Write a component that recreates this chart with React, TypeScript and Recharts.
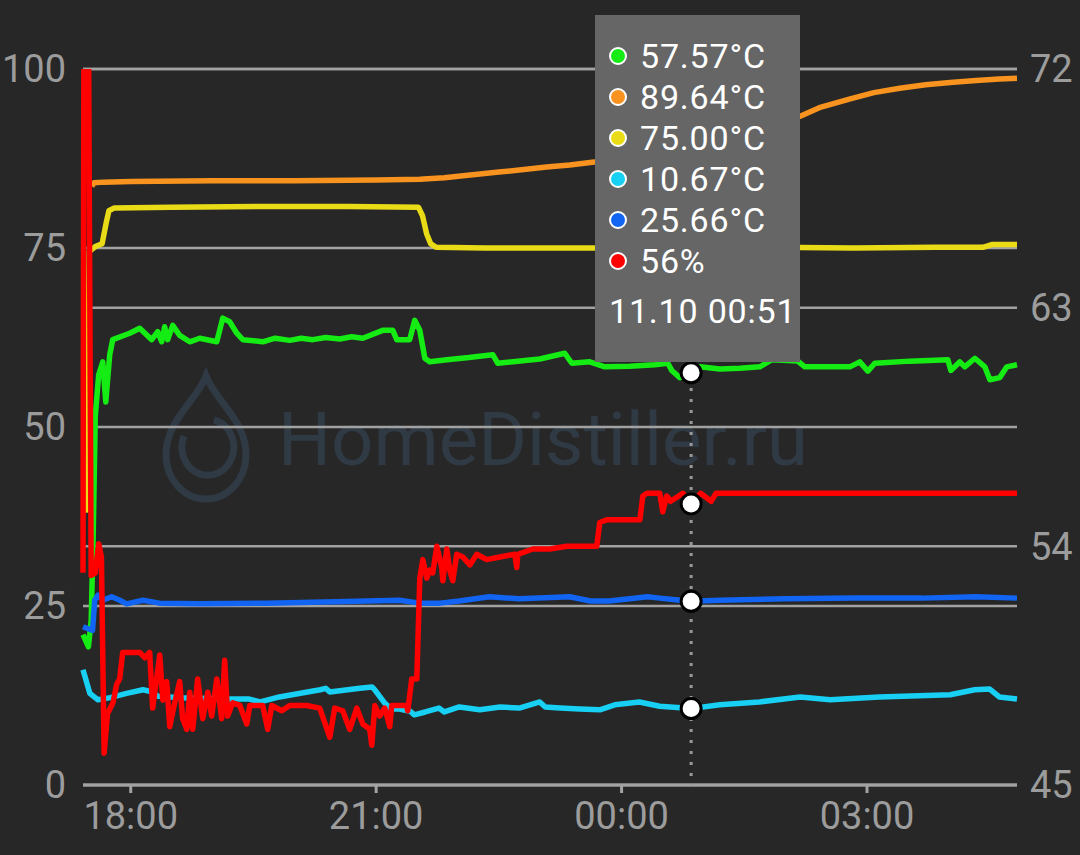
import React from "react";
import { CartesianGrid, Line, LineChart, Tooltip, XAxis, YAxis } from "recharts";

type Pt = [number, number];

// minutes from 18:00, value
const xTicks = [0, 180, 360, 540];
const xTickLabels = ["18:00", "21:00", "00:00", "03:00"];
const leftTicks = [0, 25, 50, 75, 100];
const rightTicks = [45, 54, 63, 72];
const activeMinute = 411;
const activeLabel = "11.10 00:51";

const green: Pt[] = [
  [-35, 21.0], [-31, 19.3], [-29, 23.0], [-27.5, 35], [-26, 51.5], [-23.5, 57.3], [-20.5, 59.1],
  [-18.3, 53.5], [-15.4, 60.1], [-13.2, 62.2], [-0.7, 63.1], [6.6, 63.8], [15.4, 62.2], [19.8, 63.3],
  [22.7, 61.9], [24.9, 64.0], [27.1, 62.2], [30.8, 64.2], [35.9, 62.8], [43.3, 61.9], [50.6, 62.4],
  [63.1, 61.9], [67.5, 65.2], [72.6, 64.7], [77.8, 63.1], [82.2, 62.2], [96.8, 61.9], [106, 62.4],
  [116.6, 62.1], [125, 62.4], [133.5, 62.2], [143, 62.5], [153.3, 62.3], [162, 62.6], [170.2, 62.4],
  [184.8, 63.5], [192.2, 63.5], [195.1, 62.2], [204.6, 62.2], [208.3, 64.9], [212, 63.5], [215.7, 59.6],
  [219.3, 59.1], [231.8, 59.4], [248, 59.7], [265.5, 60.1], [269.2, 58.9], [280.2, 59.1], [300, 59.5],
  [318.3, 60.3], [323.5, 58.9], [336.7, 59.1], [347.7, 58.4], [366, 58.5], [384.4, 58.7], [393.9, 58.9],
  [396.8, 57.9], [402.7, 56.9], [411, 57.57], [417.4, 58.4], [432.1, 58.1], [446.7, 58.2], [461.4, 58.4],
  [470.2, 59.4], [489.2, 59.2], [494.4, 58.4], [527.4, 58.4], [534.7, 59.1], [540.6, 57.8], [545.7, 58.9],
  [571.4, 59.2], [599.3, 59.4], [601.5, 57.9], [608.1, 59.1], [611.7, 58.4], [619.1, 59.6], [626.4, 58.4],
  [630.1, 56.6], [637.4, 56.9], [642.5, 58.4], [650, 58.7],
];

const orange: Pt[] = [
  [-28.5, 83.6], [-27, 84.1], [-20, 84.2], [0, 84.3], [60, 84.4], [120, 84.4], [180, 84.5], [212, 84.6],
  [230, 84.8], [249, 85.2], [270, 85.6], [285, 85.9], [305, 86.3], [322, 86.6], [340, 87.0], [360, 87.7],
  [385, 88.6], [411, 89.64], [430, 90.6], [447, 91.6], [470, 92.6], [491, 93.4], [505, 94.6], [527, 95.8],
  [545, 96.7], [564, 97.3], [583, 97.8], [601, 98.1], [620, 98.4], [637, 98.6], [650, 98.7],
];

const yellow: Pt[] = [
  [-35, 38.4], [-32, 38.4], [-30.5, 74.5], [-26, 75.2], [-21, 75.6], [-18, 78.5], [-16, 80.2], [-12, 80.6],
  [30, 80.7], [100, 80.8], [160, 80.8], [211, 80.7], [214, 79.5], [217, 77], [220, 75.6], [224, 75.1],
  [260, 75.0], [320, 75.0], [380, 75.0], [411, 75.0], [470, 75.1], [530, 75.0], [590, 75.1], [625, 75.1],
  [632, 75.5], [650, 75.5],
];

const cyan: Pt[] = [
  [-35, 16.1], [-30, 12.8], [-24, 11.9], [-15, 12.2], [-3, 12.8], [9, 13.3], [14, 13.1], [20, 12.4],
  [36, 12.2], [73, 12.0], [87, 12.0], [95, 11.6], [109, 12.3], [139, 13.3], [143, 13.5], [146, 13.0],
  [168, 13.5], [177, 13.7], [179, 13.3], [186, 11.5], [191, 10.6], [197, 10.6], [205, 10.3], [208, 9.8],
  [216, 10.2], [226, 10.75], [230, 10.2], [241, 10.9], [256, 10.5], [271, 10.9], [285, 10.75], [300, 11.6],
  [304, 10.9], [315, 10.75], [329, 10.6], [344, 10.5], [355, 11.2], [373, 11.6], [388, 11.0], [411, 10.67],
  [432, 11.2], [461, 11.6], [491, 12.3], [513, 11.9], [549, 12.3], [601, 12.6], [619, 13.3], [630, 13.4],
  [637, 12.3], [650, 12.0],
];

const blue: Pt[] = [
  [-35, 22.1], [-28, 21.6], [-26.4, 25.8], [-24, 26.5], [-20.5, 25.8], [-14, 26.3], [-8, 25.8], [-3, 25.3],
  [9, 25.8], [21, 25.4], [50, 25.3], [100, 25.4], [150, 25.6], [197, 25.8], [212, 25.4], [227, 25.4],
  [241, 25.7], [263, 26.3], [285, 26.0], [322, 26.3], [337, 25.7], [351, 25.7], [366, 26.0], [379, 26.3],
  [388, 26.1], [403, 25.8], [411, 25.66], [432, 25.8], [480, 26.0], [530, 26.1], [580, 26.1], [620, 26.3],
  [650, 26.1],
];

// right axis (%)
const red: Pt[] = [
  [-35, 53.0], [-33.5, 100], [-29, 52.9], [-26, 53.0], [-23.5, 54.1], [-21.5, 53.6], [-19.5, 46.2],
  [-17, 47.7], [-13, 48.1], [-10.3, 48.8], [-8.1, 49.0], [-5.9, 50.0], [6.6, 50.0], [10.3, 49.8],
  [13.9, 50.0], [16.1, 47.9], [21.3, 49.9], [23.5, 48.2], [26.4, 48.9], [28.6, 47.2], [32.3, 48.1],
  [35.9, 48.9], [38.1, 47.5], [41.1, 47.1], [43.3, 48.5], [45.5, 47.1], [49.1, 49.0], [52.8, 47.5],
  [56.5, 48.5], [59.4, 47.6], [63.1, 49.0], [66.7, 47.5], [68.9, 49.7], [71.1, 47.6], [74.8, 48.1],
  [80.0, 48.0], [85.1, 47.3], [87.3, 48.0], [96.8, 48.0], [100.5, 47.1], [103.4, 48.0], [110.8, 47.8],
  [116.6, 48.0], [129.1, 48.0], [138.6, 47.9], [146, 46.8], [149.6, 47.9], [155.5, 47.8], [160.6, 47.1],
  [165.8, 47.9], [170.2, 47.3], [175.3, 47.1], [176.8, 46.5], [179, 48.0], [182.6, 47.6], [186.3, 47.9],
  [190, 47.2], [191.4, 48.0], [202.4, 48.0], [203.2, 47.8], [206.1, 49.0], [209.8, 49.0], [212, 52.8],
  [214.2, 53.5], [217.1, 52.8], [219.3, 53.1], [221.5, 53.0], [224.5, 54.0], [228.1, 53.2], [228.9, 52.7],
  [231.8, 53.9], [234, 53.1], [236.2, 52.7], [239.1, 53.7], [243.5, 53.6], [248.7, 53.3], [253.8, 53.7],
  [261.1, 53.5], [270.7, 53.6], [281.7, 53.7], [283.1, 53.2], [283.9, 53.7], [294.9, 53.9], [307.3, 53.9],
  [319.8, 54.0], [341.8, 54.0], [344, 54.9], [349.1, 55.0], [373.4, 55.0], [375.6, 55.9], [378.5, 56.0],
  [388, 56.0], [390.2, 55.3], [393.1, 55.9], [396, 55.7], [404.9, 56.0], [411, 55.6], [418, 56.0],
  [425.7, 55.7], [429.3, 56.0], [650, 56.0],
];

const seriesKeys = ["green", "orange", "yellow", "cyan", "blue", "red"];
const seriesColors: Record<string, string> = {
  green: "#14ec14",
  orange: "#f7931e",
  yellow: "#e9dc16",
  cyan: "#17d0f4",
  blue: "#1264f2",
  red: "#ff0000",
};
const seriesUnits: Record<string, string> = {
  green: "°C",
  orange: "°C",
  yellow: "°C",
  cyan: "°C",
  blue: "°C",
  red: "%",
};

function buildRows() {
  const byMinute = new Map<number, any>();
  const add = (key: string, pts: Pt[]) =>
    pts.forEach(([m, v]) => {
      const row = byMinute.get(m) ?? { m };
      row[key] = v;
      byMinute.set(m, row);
    });
  add("green", green);
  add("orange", orange);
  add("yellow", yellow);
  add("cyan", cyan);
  add("blue", blue);
  add("red", red);
  return [...byMinute.values()].sort((a, b) => a.m - b.m);
}

const rows = buildRows();
const activeIndex = rows.findIndex((r) => r.m === activeMinute);

const gridColor = "#a2a2a2";
const labelColor = "#9c9c9c";
const font = "Roboto, sans-serif";

function TipBox(props: any) {
  const { active, payload } = props;
  if (!active || !payload || !payload.length) return null;
  const rowStyle = { height: 41, display: "flex", alignItems: "center" };
  return (
    <div
      style={{
        width: 205,
        height: 347,
        boxSizing: "border-box",
        background: "#666666",
        paddingTop: 20,
        fontFamily: font,
        fontSize: 34,
        letterSpacing: 0.8,
        color: "#ffffff",
      }}
    >
      {payload.map((p: any) => {
        const key = String(p.dataKey);
        const text =
          key === "red" ? `${Math.round(p.value)}%` : `${Number(p.value).toFixed(2)}${seriesUnits[key]}`;
        return (
          <div key={key} style={rowStyle}>
            <span
              style={{
                width: 14,
                height: 14,
                marginLeft: 14,
                borderRadius: "50%",
                border: "2px solid #ffffff",
                background: seriesColors[key],
              }}
            />
            <span style={{ marginLeft: 13 }}>{text}</span>
          </div>
        );
      })}
      <div style={{ ...rowStyle, marginTop: 9, paddingLeft: 14 }}>{activeLabel}</div>
    </div>
  );
}

function Watermark() {
  const c = "#2f3a45";
  return (
    <svg width={1080} height={855} style={{ position: "absolute", left: 0, top: 0 }}>
      <path
        d="M206 376 C 196 402, 166 420, 166 455 A 40 44 0 0 0 246 455 C 246 420, 216 402, 206 376 Z"
        fill="none"
        stroke={c}
        strokeWidth={7}
      />
      <path d="M214 420 A 26 28 0 1 1 184 436" fill="none" stroke={c} strokeWidth={7} />
      <text
        x={278}
        y={465}
        fontSize={74}
        fontFamily={font}
        fill={c}
        textLength={530}
        lengthAdjust="spacingAndGlyphs"
      >
        HomeDistiller.ru
      </text>
    </svg>
  );
}

export default function App() {
  return (
    <div
      style={{
        position: "absolute",
        left: 0,
        top: 0,
        width: 1080,
        height: 855,
        background: "#272727",
        overflow: "hidden",
      }}
    >
      <Watermark />
      <div style={{ position: "absolute", left: 0, top: 0 }}>
        <LineChart width={1080} height={855} data={rows} margin={{ top: 69, right: 0, bottom: 0, left: 0 }}>
          <CartesianGrid yAxisId="left" vertical={false} stroke={gridColor} strokeWidth={2.5} />
          <CartesianGrid yAxisId="right" vertical={false} stroke={gridColor} strokeWidth={2.5} />
          <XAxis
            dataKey="m"
            type="number"
            domain={[-35, 650]}
            ticks={xTicks}
            interval={0}
            tickFormatter={(v: number) => xTickLabels[xTicks.indexOf(v)] ?? ""}
            height={70}
            tickSize={8}
            tickMargin={9}
            axisLine={{ stroke: gridColor, strokeWidth: 3 }}
            tickLine={{ stroke: gridColor, strokeWidth: 3 }}
            tick={{ fill: labelColor, fontSize: 38, fontFamily: font }}
          />
          <YAxis
            yAxisId="left"
            domain={[0, 100]}
            ticks={leftTicks}
            interval={0}
            width={83}
            tickSize={0}
            tickMargin={17}
            axisLine={false}
            tickLine={false}
            tick={{ fill: labelColor, fontSize: 38, fontFamily: font }}
          />
          <YAxis
            yAxisId="right"
            orientation="right"
            domain={[45, 72]}
            ticks={rightTicks}
            interval={0}
            allowDataOverflow
            width={63}
            tickSize={0}
            tickMargin={13}
            axisLine={false}
            tickLine={false}
            tick={{ fill: labelColor, fontSize: 38, fontFamily: font }}
          />
          {seriesKeys.map((key) => (
            <Line
              key={key}
              yAxisId={key === "red" ? "right" : "left"}
              dataKey={key}
              type="linear"
              stroke={seriesColors[key]}
              strokeWidth={5.5}
              strokeLinejoin="round"
              dot={false}
              connectNulls
              isAnimationActive={false}
              activeDot={{ r: 10, fill: "#ffffff", stroke: "#000000", strokeWidth: 3 }}
            />
          ))}
          <Tooltip
            defaultIndex={activeIndex}
            position={{ x: 595, y: 15 }}
            isAnimationActive={false}
            cursor={{ stroke: "#9a9a9a", strokeWidth: 3, strokeDasharray: "3 8" }}
            wrapperStyle={{ zIndex: 10, outline: "none" }}
            content={<TipBox />}
          />
        </LineChart>
      </div>
    </div>
  );
}
